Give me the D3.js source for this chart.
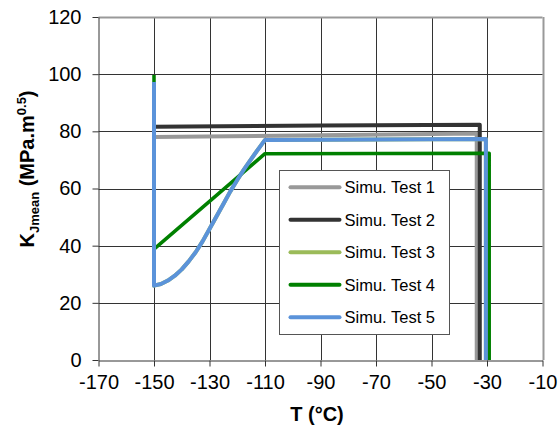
<!DOCTYPE html>
<html>
<head>
<meta charset="utf-8">
<script src="https://cdn.jsdelivr.net/npm/d3@7"></script>
<style>
  body { margin: 0; background: #fff; }
  svg { font-family: "Liberation Sans", Arial, sans-serif; }
</style>
</head>
<body>
<svg id="drawspace" width="558" height="433"></svg>
<script>
// Series data (T in °C, K in MPa.m^0.5)
const seriesNames = ["Simu. Test 1", "Simu. Test 2", "Simu. Test 3", "Simu. Test 4", "Simu. Test 5"];
const seriesColors = ["#999999", "#333333", "#9bbb59", "#008000", "#5b93da"];

const test1T = [-150, -90, -33.7, -33.7];
const test1K = [78, 78.6, 79.2, 0];

const test2T = [-150, -90, -32.6, -32.6];
const test2K = [81.6, 82, 82.3, 0];

// Test 3 lies under Test 5 in the picture
const test3T = [-150, -150, -147.5, -145, -142.5, -140, -137.5, -135, -132.5, -130, -127.5, -125, -122.5, -120, -117.5, -115, -112.5, -110, -30.4, -30.4];
const test3K = [96, 26, 26.6, 27.8, 29.5, 31.7, 34.5, 37.7, 41.5, 45.8, 50.2, 54.6, 59, 63, 66.8, 70.3, 73.7, 77, 77.3, 0];

const test4T = [-150, -150, -110, -29.2, -29.2];
const test4K = [99.7, 38.8, 72.2, 72.3, 0];

const test5T = [-150, -150, -147.5, -145, -142.5, -140, -137.5, -135, -132.5, -130, -127.5, -125, -122.5, -120, -117.5, -115, -112.5, -110, -30.4, -30.4];
const test5K = [97.3, 26, 26.6, 27.8, 29.5, 31.7, 34.5, 37.7, 41.5, 45.8, 50.2, 54.6, 59, 63, 66.8, 70.3, 73.7, 77, 77.3, 0];

const xTicks = [-170, -150, -130, -110, -90, -70, -50, -30, -10];
const yTicks = [0, 20, 40, 60, 80, 100, 120];

let drawSpace = d3.select("#drawspace");

let xScale = d3.scaleLinear().domain([-170, -10]).range([98.5, 542.5]);
let yScale = d3.scaleLinear().domain([0, 120]).range([360, 17]);

// grid lines
drawSpace.append("g")
  .selectAll("line")
  .data(xTicks.slice(1))
  .enter()
  .append("line")
  .attr("x1", d => Math.round(xScale(d)) + 0.5)
  .attr("x2", d => Math.round(xScale(d)) + 0.5)
  .attr("y1", yScale(0))
  .attr("y2", yScale(120))
  .attr("stroke", d => d == -10 ? "#999" : "#333")
  .attr("stroke-width", d => d == -10 ? 2 : 1);

drawSpace.append("g")
  .selectAll("line")
  .data(yTicks.slice(1))
  .enter()
  .append("line")
  .attr("x1", xScale(-170))
  .attr("x2", xScale(-10))
  .attr("y1", d => Math.round(yScale(d)) + 0.5)
  .attr("y2", d => Math.round(yScale(d)) + 0.5)
  .attr("stroke", d => d == 120 ? "#999" : "#333")
  .attr("stroke-width", d => d == 120 ? 2 : 1);

// axes (plain hyphen for the minus sign, as in the original)
let xAxis = d3.axisBottom(xScale).tickValues(xTicks).tickFormat(d => String(d))
  .tickSize(6).tickSizeOuter(0).tickPadding(8);
let yAxis = d3.axisLeft(yScale).tickValues(yTicks).tickFormat(d => String(d))
  .tickSize(6).tickSizeOuter(0).tickPadding(11);

let gx = drawSpace.append("g").attr("transform", "translate(0,360.5)").call(xAxis);
let gy = drawSpace.append("g").attr("transform", "translate(98.5,0)").call(yAxis);

[gx, gy].forEach(g => {
  g.select(".domain").attr("stroke", "#333");
  g.selectAll(".tick line").attr("stroke", "#333");
  g.selectAll(".tick text")
    .attr("fill", "#000")
    .style("font-size", "20px")
    .style("font-family", "Liberation Sans, Arial, sans-serif");
});

// series lines
let allSeries = [
  [test1T, test1K],
  [test2T, test2K],
  [test3T, test3K],
  [test4T, test4K],
  [test5T, test5K]
];

let line = d3.line().x(d => xScale(d[0])).y(d => yScale(d[1]));

allSeries.forEach((s, i) => {
  let pts = s[0].map((t, j) => [t, s[1][j]]);
  drawSpace.append("path")
    .datum(pts)
    .attr("d", line)
    .attr("fill", "none")
    .attr("stroke", seriesColors[i])
    .attr("stroke-width", i == 3 ? 3.5 : 4)
    .attr("stroke-linejoin", "round");
});

// legend
let legend = drawSpace.append("g").attr("transform", "translate(279.5,170.5)");
legend.append("rect")
  .attr("width", 170)
  .attr("height", 164)
  .attr("fill", "#fff")
  .attr("stroke", "#555")
  .attr("stroke-width", 1);

seriesNames.forEach((name, i) => {
  let yy = 16.8 + i * 32.5;
  legend.append("line")
    .attr("x1", 11).attr("x2", 60)
    .attr("y1", yy).attr("y2", yy)
    .attr("stroke", seriesColors[i])
    .attr("stroke-width", 4)
    .attr("stroke-linecap", "round");
  legend.append("text")
    .attr("x", 65)
    .attr("y", yy + 6)
    .style("font-size", "16.5px")
    .text(name);
});

// axis titles
drawSpace.append("text")
  .attr("x", 317)
  .attr("y", 421)
  .attr("text-anchor", "middle")
  .style("font-size", "20px")
  .style("font-weight", "bold")
  .text("T (°C)");

let yLab = drawSpace.append("text")
  .attr("transform", "translate(34,169) rotate(-90)")
  .attr("text-anchor", "middle")
  .style("font-size", "20px")
  .style("font-weight", "bold");
yLab.append("tspan").text("K");
yLab.append("tspan").attr("dy", 5).style("font-size", "13px").text("Jmean");
yLab.append("tspan").attr("dy", -5).text(" (MPa.m");
yLab.append("tspan").attr("dy", -8).style("font-size", "13px").text("0.5");
yLab.append("tspan").attr("dy", 8).text(")");
</script>
</body>
</html>
